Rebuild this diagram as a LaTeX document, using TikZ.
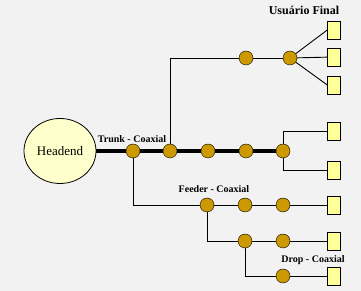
\documentclass[tikz,border=0pt]{standalone}
\usepackage{fontspec}
\setmainfont{Liberation Serif}
\usetikzlibrary{shapes.geometric}
\definecolor{bgfill}{RGB}{242,242,242}
\definecolor{ampfill}{RGB}{204,153,0}
\definecolor{usrfill}{RGB}{255,255,153}
\definecolor{headfill}{RGB}{255,255,204}

\begin{document}
\begin{tikzpicture}[x=1pt,y=1pt,amp/.style={circle,draw,fill=ampfill,minimum size=14pt,inner sep=0pt},usr/.style={rectangle,draw,fill=usrfill,minimum width=13pt,minimum height=18pt,inner sep=0pt},lbl/.style={font=\bfseries\fontsize{10}{12}\selectfont,inner sep=0pt},trunk/.style={line width=3.5pt},cable/.style={line width=0.9pt}]
\fill[bgfill] (0,0) rectangle (361,291);
\useasboundingbox (0,0) rectangle (361,291);
\node[ellipse,draw,thick,fill=headfill,minimum width=72pt,minimum height=65pt,inner sep=0pt,font=\fontsize{13}{15}\selectfont] (head) at (60,140) {Headend};
\foreach \x/\1 in %
{133/t1,170/t2,208/t3,246/t4,283/t5} {
   \node[amp] (\1) at (\x,140) {};
}
\foreach \x/\y/\1 in %
{246/233/u1,290/233/u2,207/86/f1,245/86/f2,283/86/f3,245/50/g1,283/50/g2,283/15/d1} {
   \node[amp] (\1) at (\x,\y) {};
}
\foreach \y/\1 in %
{261/ub1,234/ub2,206/ub3,160/tb1,121/tb2,86/fb,50/gb,15/db} {
   \node[usr] (\1) at (334,\y) {};
}
\node[lbl] (trunklbl) at (132,152) {Trunk - Coaxial};
\node[lbl] (feederlbl) at (214,102) {Feeder - Coaxial};
\node[lbl] (droplbl) at (313,31) {Drop - Coaxial};
\node[lbl,font=\bfseries\fontsize{12}{14}\selectfont] (usrlbl) at (304,281) {Usuário Final};
\draw[trunk] (head) -- (t1) -- (t2) -- (t3) -- (t4) -- (t5);
\draw[cable] (t2) |- (u1) -- (u2);
\draw[cable] (u2) -- (ub1.west);
\draw[cable] (u2) -- (ub2);
\draw[cable] (u2) -- (ub3.west);
\draw[cable] (t5) |- (tb1);
\draw[cable] (t5) |- (tb2);
\draw[cable] (t1) |- (f1) -- (f2) -- (f3) -- (fb);
\draw[cable] (f1) |- (g1) -- (g2) -- (gb);
\draw[cable] (g1) |- (d1) -- (db);
\end{tikzpicture}
\end{document}
